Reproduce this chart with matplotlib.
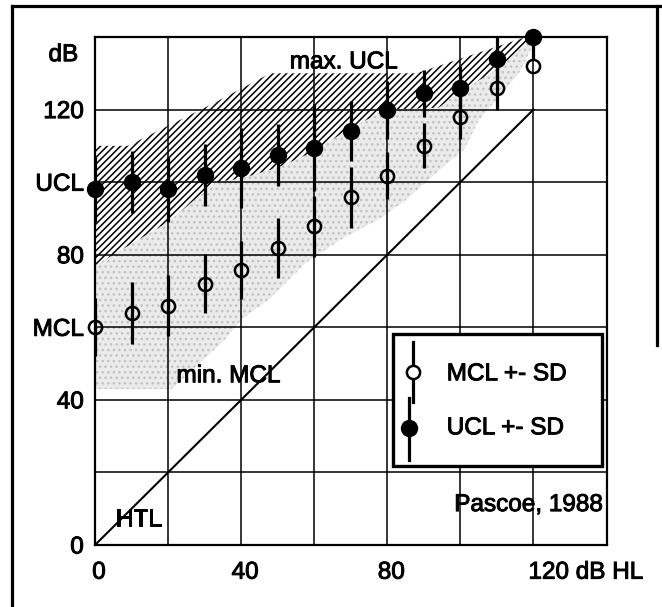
import matplotlib
matplotlib.use('Agg')
import matplotlib.pyplot as plt
from matplotlib.patches import Rectangle
from matplotlib.lines import Line2D
import matplotlib.transforms as mtransforms
import matplotlib.patheffects as pe

plt.rcParams['font.family'] = ['Liberation Sans', 'DejaVu Sans']
plt.rcParams['hatch.linewidth'] = 1.1

# ---------------- data ----------------
hearing_loss = [0, 10, 20, 30, 40, 50, 60, 70, 80, 90, 100, 110, 120]
ucl_mean = [98, 100, 98, 102, 104, 107.5, 109.5, 114, 120, 124.5, 126, 134, 140]
ucl_sd = [9, 8.5, 9, 8.5, 11, 8.5, 12, 8.3, 8, 6.5, 6, 6, 6]
mcl_mean = [60, 64, 66, 72, 75.7, 81.8, 87.8, 95.8, 101.8, 110, 118, 126, 132]
mcl_sd = [8, 8.5, 8.5, 8.2, 8, 8.3, 8.5, 8.3, 6.5, 6.2, 6, 6, 0]

htl_x = [0, 120]
htl_y = [0, 120]

# max. UCL band (hatched)
maxucl_upper_x = [0, 9, 32, 48, 88, 118, 125]
maxucl_upper_y = [110, 110, 121.5, 130, 130, 140, 142]
maxucl_lower_x = [0, 20, 33, 40, 50, 60, 70, 80, 94, 100, 110, 120, 125]
maxucl_lower_y = [77, 89, 100, 101, 104, 108.5, 115, 120, 120.5, 125, 131, 140, 142]

# min. MCL region (stippled), lower boundary
minmcl_lower_x = [0, 21, 35, 40, 48, 58, 67, 78, 85, 95, 101, 105, 116, 122]
minmcl_lower_y = [43, 43, 56, 62, 68, 78, 84, 90, 95, 104, 109, 117, 130, 142]

x_ticks = [0, 20, 40, 60, 80, 100, 120, 140]
x_labels = ['0', '', '40', '', '80', '', '120 dB HL', '']
y_ticks = [0, 20, 40, 60, 80, 100, 120, 140]
y_labels = ['0', '', '40', 'MCL', '80', 'UCL', '120', '']

FS = 17.5
BOLDEN = [pe.withStroke(linewidth=0.7, foreground='black')]

# ---------------- figure ----------------
W, H = 662, 607
fig = plt.figure(figsize=(W / 100, H / 100), dpi=100)
ax = fig.add_axes([95 / W, 62 / H, 511.5 / W, 508 / H])
ax.set_xlim(0, 140)
ax.set_ylim(0, 140)

# stippled region: from lower boundary up to the top of the hatched band
stip_x = minmcl_lower_x + maxucl_upper_x[::-1]
stip_y = minmcl_lower_y + maxucl_upper_y[::-1]
ax.fill(stip_x, stip_y, facecolor='#ebebeb', edgecolor='#c4c4c4',
        hatch='...', linewidth=0, zorder=1)

# hatched band
hatch_x = maxucl_upper_x + maxucl_lower_x[::-1]
hatch_y = maxucl_upper_y + maxucl_lower_y[::-1]
ax.fill(hatch_x, hatch_y, facecolor='white', edgecolor='black',
        hatch='/////', linewidth=0, zorder=1.5)

# grid
ax.set_xticks(x_ticks)
ax.set_xticklabels(x_labels, fontsize=FS)
ax.set_yticks(y_ticks)
ax.set_yticklabels(y_labels, fontsize=FS)
ax.set_axisbelow(False)
ax.grid(True, color='black', linewidth=1.1)
ax.tick_params(length=0)
ax.tick_params(axis='x', pad=12)
ax.tick_params(axis='y', pad=8)
for sp in ax.spines.values():
    sp.set_linewidth(1.6)
    sp.set_zorder(3)

# shift x tick labels slightly right; the last one left-aligned
off = mtransforms.ScaledTranslation(4 / 100, 0, fig.dpi_scale_trans)
for i, lab in enumerate(ax.get_xticklabels()):
    lab.set_transform(lab.get_transform() + off)
    lab.set_path_effects(BOLDEN)
    if x_labels[i].startswith('120'):
        lab.set_horizontalalignment('left')
        lab.set_transform(lab.get_transform()
                          + mtransforms.ScaledTranslation(-9 / 100, 0, fig.dpi_scale_trans))
for lab in ax.get_yticklabels():
    lab.set_path_effects(BOLDEN)

# HTL diagonal
ax.plot(htl_x, htl_y, color='black', linewidth=1.5, zorder=3)

# error bars
mcl_eb = ax.errorbar(hearing_loss, mcl_mean, yerr=mcl_sd, fmt='o', ms=9.5,
                     mfc='none', mec='black', mew=1.8, ecolor='black',
                     elinewidth=2.3, capsize=0, zorder=4)
ucl_eb = ax.errorbar(hearing_loss, ucl_mean, yerr=ucl_sd, fmt='o', ms=11.5,
                     mfc='black', mec='black', mew=1, ecolor='black',
                     elinewidth=2.3, capsize=0, zorder=4)
mcl_eb[0].set_clip_on(False)
ucl_eb[0].set_clip_on(False)

# annotations
txt_kw = dict(fontsize=FS, path_effects=BOLDEN)
ax.text(-0.033, 135, 'dB',
        transform=mtransforms.blended_transform_factory(ax.transAxes, ax.transData),
        ha='right', va='center', **txt_kw)
ax.text(53.3, 133, 'max. UCL', ha='left', va='center', zorder=5, **txt_kw)
ax.text(22.3, 46.5, 'min. MCL', ha='left', va='center', zorder=5, **txt_kw)
ax.text(5.6, 7, 'HTL', ha='left', va='center', zorder=5, **txt_kw)
ax.text(138.8, 11, 'Pascoe, 1988', ha='right', va='center', zorder=5, **txt_kw)

# legend box (drawn manually in axes coordinates)
T = ax.transAxes
ax.add_patch(Rectangle((0.582, 0.156), 0.4086, 0.2594, transform=T,
                       facecolor='white', edgecolor='black', linewidth=2.4,
                       zorder=10, clip_on=False))
ax.add_line(Line2D([0.621, 0.621], [0.282, 0.400], transform=T, color='black',
                   linewidth=2.3, zorder=11))
ax.add_line(Line2D([0.621], [0.3406], transform=T, marker='o', ms=9.5,
                   mfc='white', mec='black', mew=1.8, linestyle='none', zorder=12))
ax.add_line(Line2D([0.614, 0.614], [0.167, 0.289], transform=T, color='black',
                   linewidth=2.3, zorder=11))
ax.add_line(Line2D([0.614], [0.2297], transform=T, marker='o', ms=11.5,
                   mfc='black', mec='black', linestyle='none', zorder=12))
ax.text(0.6876, 0.336, 'MCL +- SD', transform=T, ha='left', va='center',
        zorder=12, **txt_kw)
ax.text(0.6876, 0.2297, 'UCL +- SD', transform=T, ha='left', va='center',
        zorder=12, **txt_kw)

# outer frame of the scanned page
lw_frame = 2.3
fig.add_artist(Line2D([12 / W, 12 / W], [0, 1 - 6 / H], color='black', linewidth=lw_frame))
fig.add_artist(Line2D([12 / W, 1], [1 - 6 / H, 1 - 6 / H], color='black', linewidth=lw_frame))
fig.add_artist(Line2D([657 / W, 657 / W], [1 - 6 / H, 1 - 345 / H], color='black', linewidth=lw_frame))

fig.savefig('out.png', dpi=100)
